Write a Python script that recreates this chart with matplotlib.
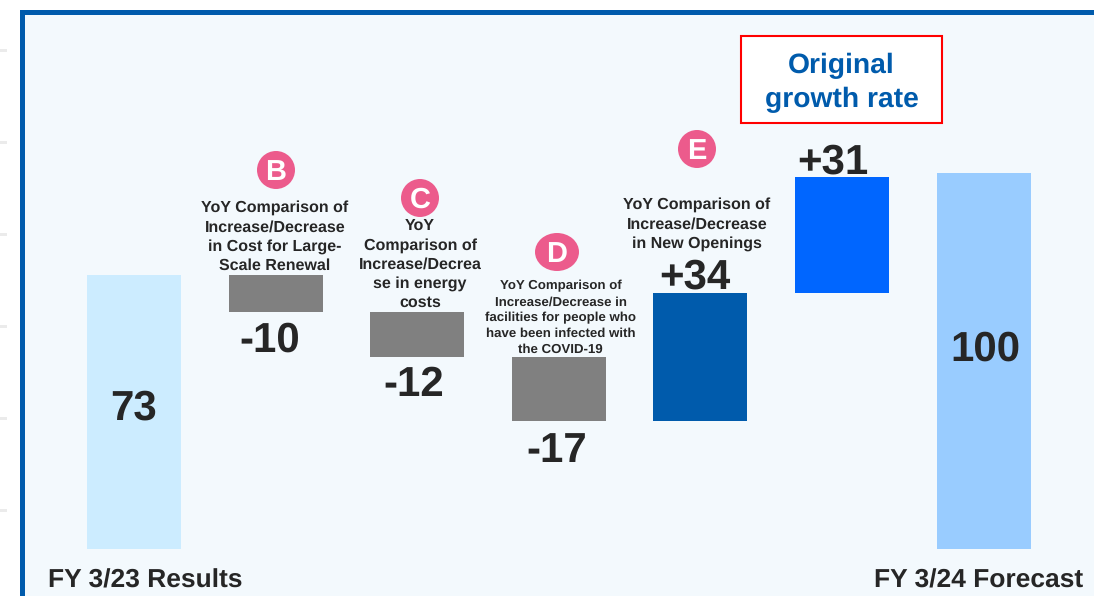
import matplotlib
matplotlib.use("Agg")
import matplotlib.pyplot as plt
from matplotlib.patches import Rectangle, Ellipse

plt.rcParams["font.family"] = ["Liberation Sans", "DejaVu Sans"]
plt.rcParams["text.hinting"] = "no_hinting"

# waterfall values
start_value = 73
changes = [-10, -12, -17, 34, 31]
end_value = 100
value_labels = ["73", "-10", "-12", "-17", "+34", "+31", "100"]
bar_colors = ["#CCECFF", "#808080", "#808080", "#808080", "#005BAC", "#0066FF", "#99CCFF"]

left_label = "FY 3/23 Results"
right_label = "FY 3/24 Forecast"
box_lines = ["Original", "growth rate"]
badges = ["B", "C", "D", "E"]
b_lines = ["YoY Comparison of", "Increase/Decrease", "in Cost for Large-", "Scale Renewal"]
c_lines = ["YoY", "Comparison of", "Increase/Decrea", "se in energy", "costs"]
d_lines = ["YoY Comparison of", "Increase/Decrease in", "facilities for people who",
           "have been infected with", "the COVID-19"]
e_lines = ["YoY Comparison of", "Increase/Decrease", "in New Openings"]

W, H = 1094, 596
DARK = "#262626"

fig = plt.figure(figsize=(W / 100, H / 100), dpi=100, facecolor="white")
ax = fig.add_axes([0, 0, 1, 1])
ax.set_xlim(-134 / 141.6, (W - 134) / 141.6)
ax.set_ylim(-(H - 549) / 3.76, 549 / 3.76)
ax.axis("off")


def px(x, y):
    return x / W, 1 - y / H


def put_text(x, y, s, size, color=DARK):
    fx, fy = px(x, y)
    fig.text(fx, fy, s, fontsize=size * 0.72, color=color, fontweight="bold",
             ha="center", va="center", zorder=5)


def put_lines(x, y, lines, size, step):
    for i, line in enumerate(lines):
        put_text(x, y + i * step, line, size)


# panel behind the chart
ax.add_patch(Rectangle(px(22, H + 5), (W + 20) / W, (H - 6.5) / H, transform=fig.transFigure,
                       facecolor="#F3F9FD", edgecolor="#005BAC", linewidth=3.6, zorder=0, clip_on=False))

# little grey ticks left of the panel
for y in [50, 142, 234, 326, 418, 510]:
    ax.add_patch(Rectangle(px(0, y + 1.5), 7 / W, 3 / H, transform=fig.transFigure,
                           facecolor="#EBEBEB", edgecolor="none", zorder=1))

# bars: first and last from zero, the rest floating on the running total
running = start_value
positions = list(range(7))
ax.bar(positions[0], start_value, width=0.665, color=bar_colors[0], zorder=2)
for i, change in enumerate(changes):
    ax.bar(positions[i + 1], change, bottom=running, width=0.665, color=bar_colors[i + 1], zorder=2)
    running += change
ax.bar(positions[6], end_value, width=0.665, color=bar_colors[6], zorder=2)

# value labels
value_xy = [(134, 409), (270, 341), (414, 385), (557, 451), (695, 278), (833, 163), (985, 350)]
for (x, y), s in zip(value_xy, value_labels):
    put_text(x, y, s, 42)

put_text(145.5, 581, left_label, 26.4)
put_text(978.5, 581, right_label, 26.4)

# red box
ax.add_patch(Rectangle(px(741, 123), 201 / W, 87 / H, transform=fig.transFigure,
                       facecolor="white", edgecolor="#FF0000", linewidth=1.5, zorder=3))
put_text(841.5, 66, box_lines[0], 28.2, "#005BAC")
put_text(841.5, 100, box_lines[1], 28.2, "#005BAC")

# pink badges
badge_xy = [(276, 170, 38), (420, 198, 38), (557, 252, 44), (697, 149, 38)]
for (x, y, w), s in zip(badge_xy, badges):
    ax.add_patch(Ellipse(px(x, y), w / W, 38 / H, transform=fig.transFigure,
                         facecolor="#EC5B8C", edgecolor="none", zorder=3))
    put_text(x, y + 2.5, s, 29, "white")

# annotations
put_lines(275, 208, b_lines, 16, 19.2)
put_lines(420, 226, c_lines, 16, 19.2)
put_lines(560.5, 286, d_lines, 13.3, 16)
put_lines(697, 205, e_lines, 16, 19.3)

fig.savefig("out.png", dpi=100, facecolor="white")
